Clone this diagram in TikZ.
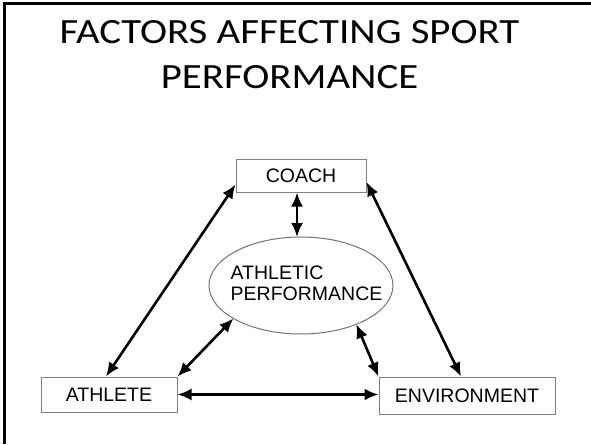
\documentclass[tikz,border=0pt]{standalone}
\usepackage{fontspec}
\setmainfont{Liberation Sans}
\newfontfamily\titlefont[FakeStretch=1.15]{Carlito}
\usetikzlibrary{arrows.meta,shapes.geometric,positioning}

\begin{document}
\begin{tikzpicture}[x=1pt,y=-1pt,
        box/.style={draw=black!50, line width=1pt, minimum height=35pt, inner sep=0pt,
            font=\fontsize{19.5}{21}\selectfont},
        perf/.style={ellipse, draw=black!55, line width=1pt, minimum width=184pt,
            minimum height=97pt, inner sep=0pt, outer sep=0pt},
        link/.style={{Latex[length=14pt,width=12pt]}-{Latex[length=14pt,width=12pt]}, line width=2.6pt}]
    \useasboundingbox (0,0) rectangle (591,444);

    % Cadre
    \draw[line width=3pt] (4,444) -- (4,4) -- (591,4);

    % Titre
    \node[font=\titlefont\fontsize{35.5}{44}\selectfont, anchor=base] (titleA) at (289.5,44) {FACTORS AFFECTING SPORT};
    \node[font=\titlefont\fontsize{35.5}{44}\selectfont, anchor=base] (titleB) at (289.5,88) {PERFORMANCE};

    % Boites
    \node[box, minimum width=130pt, minimum height=33pt] (coach) at (301,175.5) {COACH};
    \node[box, minimum width=136pt] (athlete) at (109,394.5) {ATHLETE\hspace{12pt}};
    \node[box, minimum width=176pt, minimum height=37pt] (environment) at (467,395.5) {ENVIRONMENT};
    \node[perf] (performance) at (301,285.5) {};
    \node[font=\fontsize{19.5}{21}\selectfont, align=left, inner sep=0pt] (perflabel) at (306.5,283) {ATHLETIC\\PERFORMANCE};

    % Fleches
    \draw[link] ([xshift=-4pt]coach.south) -- ([xshift=-4pt]performance.north);
    \draw[link] ([xshift=-3pt]athlete.north) -- ([yshift=-9pt]coach.west);
    \draw[link] ([yshift=-6.5pt]coach.east) -- ([xshift=-6pt]environment.north);
    \draw[link] (athlete.north east) -- (performance.206);
    \draw[link] (environment.north west) -- (performance.325);
    \draw[link] (athlete.east) -- (athlete.east -| environment.west);
\end{tikzpicture}
\end{document}
